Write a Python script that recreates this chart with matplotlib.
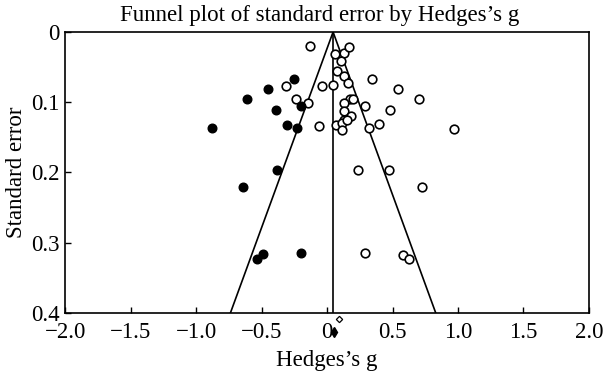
import matplotlib
matplotlib.use("Agg")
import matplotlib.pyplot as plt
from matplotlib.ticker import FixedLocator, FixedFormatter

plt.rcParams['font.family'] = ['Liberation Serif', 'DejaVu Serif']

# observed studies (hollow circles)
obs_g = [-0.128, 0.056, 0.132, 0.168, 0.104, 0.077, 0.127, 0.158, 0.345, 0.048,
         -0.036, -0.312, 0.541, 0.702, -0.240, -0.145, 0.176, 0.194, 0.127, 0.286,
         0.127, 0.479, 0.184, 0.127, -0.064, 0.071, 0.115, 0.117, 0.148, 0.319,
         0.395, 0.970, 0.237, 0.475, 0.727, 0.291, 0.579, 0.625]
obs_se = [0.020, 0.031, 0.030, 0.022, 0.041, 0.056, 0.063, 0.072, 0.067, 0.075,
          0.077, 0.077, 0.081, 0.096, 0.095, 0.101, 0.095, 0.096, 0.101, 0.106,
          0.112, 0.111, 0.120, 0.125, 0.134, 0.132, 0.129, 0.139, 0.126, 0.137,
          0.131, 0.138, 0.196, 0.197, 0.221, 0.315, 0.317, 0.324]

# imputed studies (filled circles)
imp_g = [-0.256, -0.452, -0.613, -0.390, -0.199, -0.306, -0.230, -0.884,
         -0.383, -0.643, -0.490, -0.536, -0.199]
imp_se = [0.067, 0.081, 0.096, 0.111, 0.106, 0.132, 0.137, 0.137,
          0.197, 0.221, 0.316, 0.324, 0.315]

mean_effect = 0.045
obs_summary = 0.089
imp_summary = 0.050
se_max = 0.4

x_ticks = [-2.0, -1.5, -1.0, -0.5, 0.0, 0.5, 1.0, 1.5, 2.0]
x_labels = ["\u22122.0", "\u22121.5", "\u22121.0", "\u22120.5", "0", "0.5", "1.0", "1.5", "2.0"]
y_ticks = [0, 0.1, 0.2, 0.3, 0.4]
y_labels = ["0", "0.1", "0.2", "0.3", "0.4"]

fig = plt.figure(figsize=(6.04, 3.71), dpi=100)
ax = fig.add_axes([0.1084, 0.157, 0.8666, 0.7567])

fs = 16.5

# funnel
ax.plot([mean_effect - 1.96 * se_max, mean_effect, mean_effect + 1.96 * se_max],
        [se_max, 0, se_max], color='black', lw=1.2)
ax.plot([mean_effect, mean_effect], [0, se_max], color='black', lw=1.2)

ax.plot(obs_g, obs_se, 'o', ls='none', mfc='white', mec='black', ms=6.2, mew=1.2)
ax.plot(imp_g, imp_se, 'o', ls='none', mfc='black', mec='black', ms=6.2)

# summary diamonds below the axis
ax.plot([obs_summary], [0.409], marker='D', ms=3.2, mfc='white', mec='black',
        mew=0.9, clip_on=False)
ax.plot([imp_summary], [0.428], marker='d', ms=5, mfc='black', mec='black',
        clip_on=False)

ax.set_xlim(-2.0, 2.0)
ax.set_ylim(0.4, 0.0)
ax.xaxis.set_major_locator(FixedLocator(x_ticks))
ax.xaxis.set_major_formatter(FixedFormatter(x_labels))
ax.yaxis.set_major_locator(FixedLocator(y_ticks))
ax.yaxis.set_major_formatter(FixedFormatter(y_labels))
ax.tick_params(direction='in', length=4, width=1, labelsize=fs,
               top=False, right=False)
ax.tick_params(axis='x', pad=7)
ax.tick_params(axis='y', pad=4)
for s in ax.spines.values():
    s.set_linewidth(1.2)

ax.set_title("Funnel plot of standard error by Hedges\u2019s g", fontsize=fs,
             pad=8, x=0.485)
ax.set_xlabel("Hedges\u2019s g", fontsize=fs, labelpad=5)
ax.set_ylabel("Standard error", fontsize=fs, labelpad=3)

fig.savefig("out.png", dpi=100)
